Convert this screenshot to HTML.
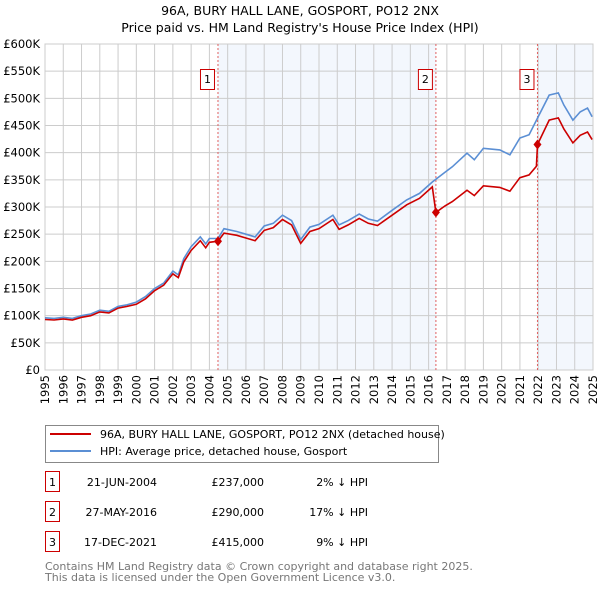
<!DOCTYPE html>
<html><head><meta charset="utf-8"><style>
body{margin:0;background:#fff;font-family:"DejaVu Sans","Liberation Sans",sans-serif;}
svg text{font-family:"DejaVu Sans","Liberation Sans",sans-serif;}
</style></head><body>
<svg id="chart" width="600" height="590" xmlns="http://www.w3.org/2000/svg">
<text x="300" y="15" text-anchor="middle" font-size="12.5">96A, BURY HALL LANE, GOSPORT, PO12 2NX</text>
<text x="300" y="32" text-anchor="middle" font-size="12.5">Price paid vs. HM Land Registry's House Price Index (HPI)</text>
<g id="plot"></g>
<g>
<rect x="45.5" y="425.5" width="393" height="37" fill="#fff" stroke="#888"/>
<line x1="50" y1="434" x2="91" y2="434" stroke="#cc0000" stroke-width="2"/>
<text x="100" y="438" font-size="11">96A, BURY HALL LANE, GOSPORT, PO12 2NX (detached house)</text>
<line x1="50" y1="451" x2="91" y2="451" stroke="#5b8fd4" stroke-width="2"/>
<text x="100" y="455" font-size="11">HPI: Average price, detached house, Gosport</text>
</g>
<g id="table" font-size="11"></g>
<text x="45" y="570" font-size="11" fill="#777">Contains HM Land Registry data © Crown copyright and database right 2025.</text>
<text x="45" y="581" font-size="11" fill="#777">This data is licensed under the Open Government Licence v3.0.</text>
</svg>
<script>
const hpiYears=[1995,1995.5,1996,1996.5,1997,1997.5,1998,1998.5,1999,1999.5,2000,2000.5,2001,2001.5,2002,2002.3,2002.6,2003,2003.5,2003.8,2004,2004.47,2004.8,2005.5,2006,2006.5,2007,2007.5,2008,2008.5,2009,2009.5,2010,2010.76,2011.1,2011.6,2012.2,2012.7,2013.2,2014,2014.8,2015.5,2016.2,2016.9,2017.3,2018.1,2018.5,2019,2019.9,2020.45,2021,2021.5,2022,2022.6,2023.1,2023.4,2023.9,2024.3,2024.7,2024.95];
const hpiValues=[96,95,97,95,100,103,110,108,117,120,125,135,150,160,182,175,205,227,245,232,242,242,260,255,250,245,265,270,285,275,240,263,268,285,267,275,287,278,274,294,313,325,346,364,374,399,387,408,405,396,427,433,466,506,510,488,460,475,482,466];
const redYears=[1995,1995.5,1996,1996.5,1997,1997.5,1998,1998.5,1999,1999.5,2000,2000.5,2001,2001.5,2002,2002.3,2002.6,2003,2003.5,2003.8,2004,2004.47,2004.8,2005.5,2006,2006.5,2007,2007.5,2008,2008.5,2009,2009.5,2010,2010.76,2011.1,2011.6,2012.2,2012.7,2013.2,2014,2014.8,2015.5,2016.2,2016.4,2016.9,2017.3,2018.1,2018.5,2019,2019.9,2020.45,2021,2021.5,2021.9,2021.96,2022.6,2023.1,2023.4,2023.9,2024.3,2024.7,2024.95];
const redValues=[93,92,94,92,97,100,107,105,114,117,121,131,146,156,177,170,199,220,238,225,235,237,252,248,243,238,257,262,277,267,233,255,260,277,259,267,279,270,266,285,304,316,337,290,302,310,331,321,339,336,329,354,359,375,415,460,464,444,418,432,438,424];
const sales=[{n:"1",y:2004.47,v:237,d:"21-JUN-2004",p:"£237,000",h:"2% ↓ HPI"},{n:"2",y:2016.4,v:290,d:"27-MAY-2016",p:"£290,000",h:"17% ↓ HPI"},{n:"3",y:2021.96,v:415,d:"17-DEC-2021",p:"£415,000",h:"9% ↓ HPI"}];
const yTicks=[0,50,100,150,200,250,300,350,400,450,500,550,600];
const xTicks=[1995,1996,1997,1998,1999,2000,2001,2002,2003,2004,2005,2006,2007,2008,2009,2010,2011,2012,2013,2014,2015,2016,2017,2018,2019,2020,2021,2022,2023,2024,2025];
const NS="http://www.w3.org/2000/svg";
const L=45,R=593,T=44,B=370;
const xs=y=>L+(y-1995)/30*(R-L);
const ys=v=>B-v/600*(B-T);
const plot=document.getElementById('plot');
function mk(tag,attrs,parent){const e=document.createElementNS(NS,tag);for(const k in attrs)e.setAttribute(k,attrs[k]);(parent||plot).appendChild(e);return e;}
let e=mk('rect',{x:xs(sales[0].y),y:T,width:xs(sales[1].y)-xs(sales[0].y),height:B-T,fill:'#eef3fc',opacity:0.7});


e=mk('rect',{x:xs(sales[2].y),y:T,width:R-xs(sales[2].y),height:B-T,fill:'#eef3fc',opacity:0.7});


yTicks.forEach(t=>{
 e=mk('line',{x1:L,x2:R,y1:ys(t),y2:ys(t),stroke:'#ccc'});
 
 
 e=mk('text',{x:L-5,y:ys(t)+4,'text-anchor':'end','font-size':11.5});
 e.textContent=t===0?'£0':'£'+t+'K';
 
 
});
xTicks.forEach(t=>{
 e=mk('line',{x1:xs(t),x2:xs(t),y1:T,y2:B,stroke:'#ccc'});
 
 
 e=mk('text',{x:0,y:0,'text-anchor':'end','font-size':11.5,transform:`translate(${xs(t)+4},${B+5}) rotate(-90)`});
 e.textContent=t;
 
 
});
e=mk('rect',{x:L,y:T,width:R-L,height:B-T,fill:'none',stroke:'#ccc'});


sales.forEach(s=>{
 e=mk('line',{x1:xs(s.y),x2:xs(s.y),y1:T,y2:B,stroke:'#e06060','stroke-dasharray':'2,2'});
 
 
 const bx=xs(s.y)-3-15;
 e=mk('rect',{x:bx+0.5,y:69.5,width:14,height:20,fill:'#fff',stroke:'#cc0000'});
 
 
 e=mk('text',{x:bx+7.5,y:83,'text-anchor':'middle','font-size':11});
 e.textContent=s.n;
 
 
});
const path=(xsArr,vArr)=>xsArr.map((y,i)=>(i?'L':'M')+xs(y).toFixed(1)+','+ys(vArr[i]).toFixed(1)).join('');
e=mk('path',{d:path(hpiYears,hpiValues),fill:'none',stroke:'#5b8fd4','stroke-width':1.6});


e=mk('path',{d:path(redYears,redValues),fill:'none',stroke:'#cc0000','stroke-width':1.6});


sales.forEach(s=>{
 const cx=xs(s.y),cy=ys(s.v);
 e=mk('path',{d:`M${cx},${cy-5}L${cx+4},${cy}L${cx},${cy+5}L${cx-4},${cy}Z`,fill:'#cc0000'});
 
 
});
const table=document.getElementById('table');
sales.forEach((s,i)=>{
 const y=482+i*30;
 e=mk('rect',{x:45.5,y:y-10.5,width:14,height:20,fill:'#fff',stroke:'#cc0000'},table);
 
 
 e=mk('text',{x:52.5,y:y+4,'text-anchor':'middle'},table);e.textContent=s.n;
 
 
 e=mk('text',{x:157,y:y+4,'text-anchor':'end'},table);e.textContent=s.d;
 
 
 e=mk('text',{x:264,y:y+4,'text-anchor':'end'},table);e.textContent=s.p;
 
 
 e=mk('text',{x:368,y:y+4,'text-anchor':'end'},table);e.textContent=s.h;
 
 
});
</script>
</body></html>
